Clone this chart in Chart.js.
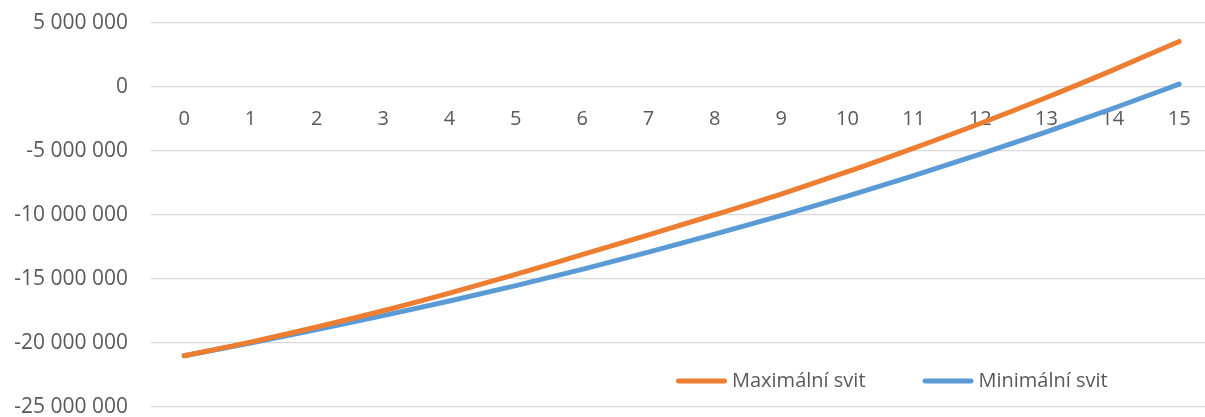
<!DOCTYPE html>
<html>
<head>
<meta charset="utf-8">
<script src="https://cdn.jsdelivr.net/npm/chart.js@4.4.1/dist/chart.umd.min.js"></script>
<style>
  html, body { margin: 0; padding: 0; background: #ffffff; overflow: hidden; }
  #wrap { width: 1205px; height: 417px; position: relative; }
</style>
</head>
<body>
<div id="wrap"><canvas id="c"></canvas></div>
<script>
// Years of operation (x categories)
const years = [0, 1, 2, 3, 4, 5, 6, 7, 8, 9, 10, 11, 12, 13, 14, 15];

// Cumulative cash flow, maximum sunshine scenario
const maxSvit = [-21000000, -19930000, -18750000, -17480000, -16100000, -14640000, -13100000, -11550000,
                 -9980000, -8360000, -6620000, -4770000, -2850000, -820000, 1320000, 3560000];

// Cumulative cash flow, minimum sunshine scenario
const minSvit = [-21000000, -20000000, -18950000, -17860000, -16720000, -15520000, -14250000, -12900000,
                 -11500000, -10050000, -8520000, -6930000, -5240000, -3500000, -1680000, 230000];

// Value axis
const yMin = -25000000;
const yMax = 5000000;
const yStep = 5000000;

const seriesNames = ['Maximální svit', 'Minimální svit'];
const seriesColors = ['#ED7D31', '#5B9BD5'];

const textColor = '#595959';
const gridColor = '#D9D9D9';
const fontFamily = "'Open Sans', 'Liberation Sans', sans-serif";

// Space-separated thousands, e.g. -20 000 000
function formatNumber(v) {
  const s = Math.abs(Math.round(v)).toString().replace(/\B(?=(\d{3})+(?!\d))/g, ' ');
  return (v < 0 ? '-' : '') + s;
}

// Legend drawn inside the plot area, near its lower edge
const inlineLegend = {
  id: 'inlineLegend',
  afterDatasetsDraw(chart) {
    const ctx = chart.ctx;
    const area = chart.chartArea;
    let x = area.left + 525;
    const y = area.bottom - 26;
    ctx.save();
    ctx.font = '20px ' + fontFamily;
    ctx.textBaseline = 'middle';
    ctx.textAlign = 'left';
    chart.data.datasets.forEach(ds => {
      ctx.strokeStyle = ds.borderColor;
      ctx.lineWidth = 5;
      ctx.lineCap = 'round';
      ctx.beginPath();
      ctx.moveTo(x + 2.5, y);
      ctx.lineTo(x + 48.5, y);
      ctx.stroke();
      ctx.fillStyle = textColor;
      ctx.fillText(ds.label, x + 56, y);
      x += 56 + ctx.measureText(ds.label).width + 57;
    });
    ctx.restore();
  }
};

Chart.defaults.font.family = fontFamily;
Chart.defaults.font.size = 20;
Chart.defaults.color = textColor;

new Chart(document.getElementById('c'), {
  type: 'line',
  data: {
    labels: years,
    datasets: [
      {
        label: seriesNames[0],
        data: maxSvit,
        borderColor: seriesColors[0],
        backgroundColor: seriesColors[0],
        borderWidth: 5,
        borderCapStyle: 'round',
        borderJoinStyle: 'round',
        pointRadius: 0,
        cubicInterpolationMode: 'monotone',
        fill: false
      },
      {
        label: seriesNames[1],
        data: minSvit,
        borderColor: seriesColors[1],
        backgroundColor: seriesColors[1],
        borderWidth: 5,
        borderCapStyle: 'round',
        borderJoinStyle: 'round',
        pointRadius: 0,
        cubicInterpolationMode: 'monotone',
        fill: false
      }
    ]
  },
  options: {
    responsive: true,
    maintainAspectRatio: false,
    animation: false,
    layout: { padding: { top: 23, bottom: 10, left: 0, right: 0 } },
    plugins: {
      legend: { display: false },
      tooltip: { enabled: false }
    },
    scales: {
      x: {
        type: 'linear',
        position: { y: 0 },
        min: -0.5,
        max: 15.39,
        afterBuildTicks(scale) {
          scale.ticks = years.map(v => ({ value: v }));
        },
        afterFit(scale) {
          scale.height = 0;
          scale.paddingLeft = 0;
          scale.paddingRight = 0;
        },
        ticks: {
          autoSkip: false,
          maxRotation: 0,
          padding: 20,
          color: textColor,
          callback: v => String(v)
        },
        grid: { display: false, drawTicks: false },
        border: { display: false }
      },
      y: {
        min: yMin,
        max: yMax,
        afterFit(scale) {
          scale.width = 151;
          scale.paddingTop = 0;
          scale.paddingBottom = 0;
        },
        ticks: {
          stepSize: yStep,
          padding: 23,
          color: textColor,
          font: { size: 21 },
          callback: v => formatNumber(v)
        },
        grid: { color: gridColor, lineWidth: 1.3, drawTicks: false },
        border: { display: false }
      }
    }
  },
  plugins: [inlineLegend]
});
</script>
</body>
</html>
